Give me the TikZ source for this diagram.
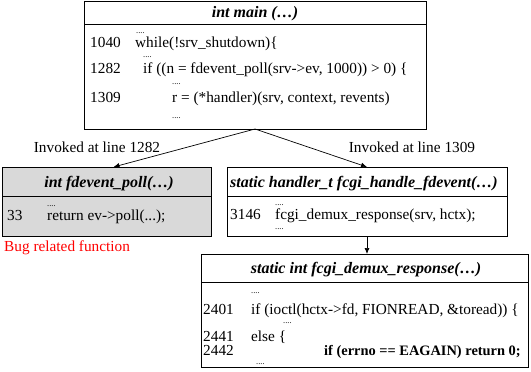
\documentclass[tikz,border=0pt]{standalone}
\usepackage{fontspec}
\setmainfont{Liberation Serif}
\usetikzlibrary{arrows.meta}
\definecolor{boxgray}{RGB}{217,217,217}
\definecolor{bugred}{RGB}{255,0,0}
\begin{document}
\begin{tikzpicture}[x=1pt,y=-1pt,
  font=\fontsize{15.3}{18}\selectfont,
  box/.style={draw=black, line width=0.8pt, inner sep=0, outer sep=0, anchor=north west},
  code/.style={anchor=base west, inner sep=0},
  dots/.style={anchor=base west, inner sep=0, font=\fontsize{8.5}{10}\selectfont},
  ttl/.style={font=\fontsize{16}{19}\selectfont\bfseries\itshape, inner sep=0},
  lbl/.style={inner sep=0},
  arr/.style={-{Latex[length=6pt,width=5pt]}, line width=0.7pt}]
\useasboundingbox (0,0) rectangle (531,372);

% main box
\node[box, minimum width=342pt, minimum height=128pt] (mainbox) at (84,1) {};
\draw[line width=0.8pt] (84,24) -- (426,24);
\node[ttl] (maint) at (255,13.5) {int main (…)};
\node[dots] (m0d) at (136,33) {....};
\node[code] (m1n) at (90,48) {1040};
\node[code] (m1c) at (135,48) {while(!srv\_shutdown)\{};
\node[dots] (m1d) at (143,57) {....};
\node[code] (m2n) at (90,73) {1282};
\node[code] (m2c) at (143,73) {if ((n = fdevent\_poll(srv->ev, 1000)) > 0) \{};
\node[dots] (m2d) at (172,84) {....};
\node[code] (m3n) at (90,102) {1309};
\node[code] (m3c) at (172,102) {r = (*handler)(srv, context, revents)};
\node[dots] (m3d) at (172,118) {....};

% labels
\node[lbl] (inv1) at (97,147) {Invoked at line 1282};
\node[lbl] (inv2) at (412,147) {Invoked at line 1309};

% fdevent_poll box
\node[box, fill=boxgray, minimum width=209pt, minimum height=69pt] (pollbox) at (2,167) {};
\draw[line width=0.8pt] (2,196) -- (211,196);
\node[ttl] (pollt) at (109,183.5) {int fdevent\_poll(…)};
\node[dots] (p0d) at (47,206) {....};
\node[code] (p1n) at (7,220) {33};
\node[code] (p1c) at (47,220) {return ev->poll(...);};
\node[lbl, text=bugred, anchor=west] (bug) at (4,248) {Bug related function};

% fcgi_handle_fdevent box
\node[box, minimum width=280pt, minimum height=69pt] (hbox) at (227,167) {};
\draw[line width=0.8pt] (227,196) -- (507,196);
\node[ttl] (ht) at (364,183.5) {static handler\_t fcgi\_handle\_fdevent(…)};
\node[dots] (h0d) at (275,205) {....};
\node[code] (h1n) at (230,219) {3146};
\node[code] (h1c) at (275,219) {fcgi\_demux\_response(srv, hctx);};
\node[dots] (h1d) at (275,229) {....};

% fcgi_demux_response box
\node[box, minimum width=327pt, minimum height=113pt] (dbox) at (201,254) {};
\draw[line width=0.8pt] (201,282) -- (528,282);
\node[ttl] (dt) at (366,269.5) {static int fcgi\_demux\_response(…)};
\node[dots] (d0d) at (251,293) {....};
\node[code] (d1n) at (203,314) {2401};
\node[code] (d1c) at (251,314) {if (ioctl(hctx->fd, FIONREAD, \&toread)) \{};
\node[dots] (d1d) at (283,323) {....};
\node[code] (d2n) at (203,341) {2441};
\node[code] (d2c) at (251,341) {else \{};
\node[code] (d3n) at (203,355) {2442};
\node[code, font=\fontsize{14.4}{18}\selectfont\bfseries] (d3c) at (324,355) {if (errno == EAGAIN) return 0;};
\node[dots] (d3d) at (256,364) {....};

% connectors
\draw[arr] (mainbox.south) -- ([xshift=7pt]pollbox.north);
\draw[arr] (mainbox.south) -- (hbox.north);
\draw[arr] (hbox.south) -- (hbox.south |- dbox.north);
\end{tikzpicture}
\end{document}
